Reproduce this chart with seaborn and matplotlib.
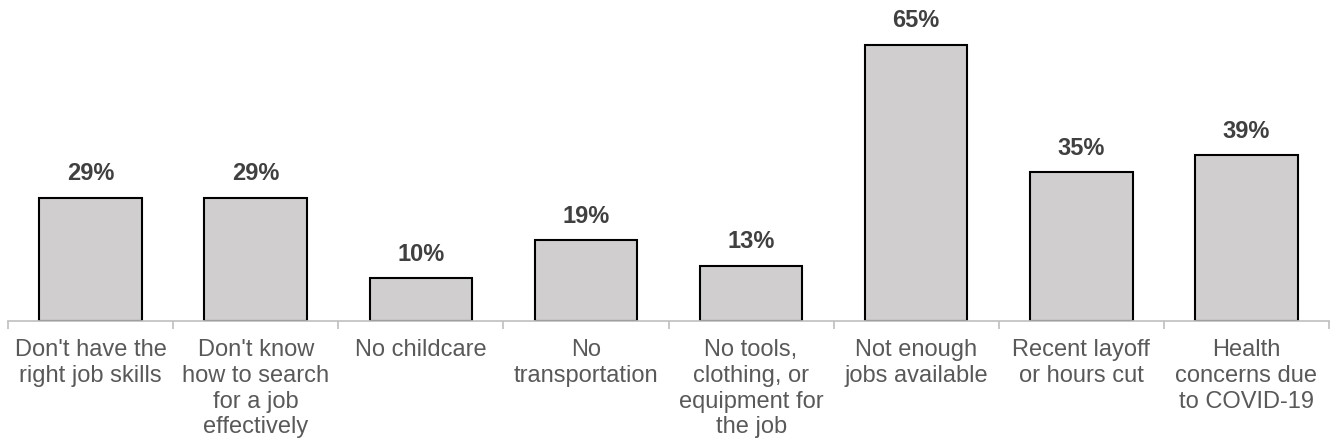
import matplotlib
matplotlib.use("Agg")
import matplotlib.pyplot as plt
import seaborn as sns
import numpy as np

# categories and values
categories = ["Don't have the\nright job skills",
              "Don't know\nhow to search\nfor a job\neffectively",
              "No childcare",
              "No\ntransportation",
              "No tools,\nclothing, or\nequipment for\nthe job",
              "Not enough\njobs available",
              "Recent layoff\nor hours cut",
              "Health\nconcerns due\nto COVID-19"]
values = [29, 29, 10, 19, 13, 65, 35, 39]

sns.set_theme(style="white")
plt.rcParams['font.family'] = ['Liberation Sans', 'DejaVu Sans']

fig = plt.figure(figsize=(13.34, 4.46), dpi=100)
ax = fig.add_axes([8/1334, 125/446, 1321/1334, 321/446])

sns.barplot(x=list(range(len(values))), y=values, ax=ax, color="#D0CECE",
            edgecolor="black", linewidth=1.5, width=0.62, saturation=1)

ax.set_xlim(-0.5, len(values) - 0.5)
ax.set_ylim(0, 75.5)

# value labels
for i, v in enumerate(values):
    ax.annotate(f"{v}%", (i, v), xytext=(0, 9), textcoords="offset points",
                ha="center", va="bottom", fontsize=17, fontweight="bold",
                color="#404040")

for s in ["top", "right", "left"]:
    ax.spines[s].set_visible(False)
ax.spines["bottom"].set_color("#BFBFBF")
ax.spines["bottom"].set_linewidth(1.2)
ax.set_yticks([])

ax.set_xticks(range(len(values)))
ax.set_xticklabels(categories, fontsize=17, color="#595959", linespacing=1.22)
ax.set_xticks(np.arange(-0.5, len(values)), minor=True)
ax.tick_params(axis="x", which="major", length=0, pad=13)
ax.tick_params(axis="x", which="minor", length=6, width=1.2, color="#BFBFBF",
               bottom=True)
ax.set_xlabel("")
ax.set_ylabel("")

fig.savefig("out.png", dpi=100)
